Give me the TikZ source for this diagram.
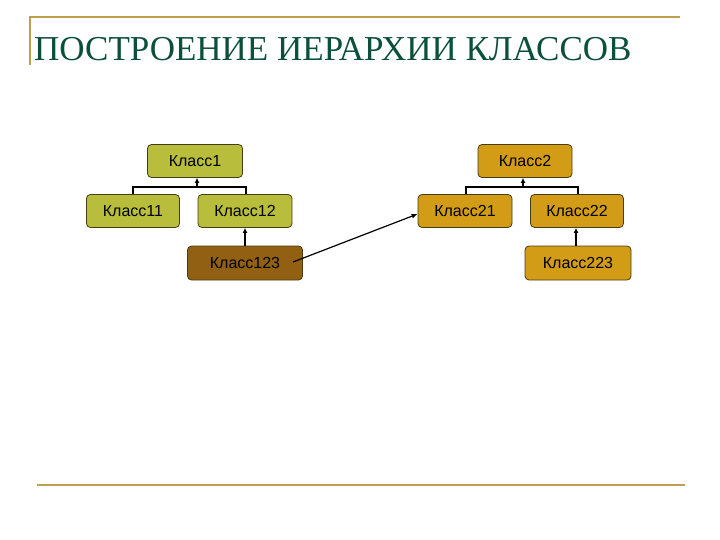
\documentclass[tikz,border=0pt]{standalone}
\usepackage{fontspec}
\setmainfont{Liberation Serif}
\newfontfamily\boxfont{Liberation Sans}
\usetikzlibrary{arrows.meta}
\definecolor{rulegold}{RGB}{190,160,80}
\definecolor{titlegreen}{RGB}{10,80,60}
\definecolor{olivefill}{RGB}{184,190,60}
\definecolor{goldfill}{RGB}{210,156,22}
\definecolor{brownfill}{RGB}{146,96,18}
\definecolor{boxedge}{RGB}{70,60,20}
\tikzset{
  cls/.style={draw=boxedge, line width=0.8pt, rounded corners=4pt, minimum height=33pt,
    inner sep=0pt, font=\boxfont\fontsize{16}{18}\selectfont, text=black},
  olive/.style={cls, fill=olivefill},
  gold/.style={cls, fill=goldfill},
  brownb/.style={cls, fill=brownfill},
  tree/.style={line width=2.2pt, black},
  treearrow/.style={line width=2.2pt, black, -{Latex[length=5pt,width=5pt]}},
  rulel/.style={rulegold, line width=2pt}
}
\begin{document}
\begin{tikzpicture}[x=1pt,y=-1pt]
\useasboundingbox (0,0) rectangle (720,540);
% rules
\coordinate (tl) at (30,65);
\coordinate (tc) at (30,17);
\coordinate (tr) at (680,17);
\draw[rulel] (tl) -- (tc) -- (tr);
\coordinate (bl) at (37,485);
\coordinate (br) at (685,485);
\draw[rulel] (bl) -- (br);
% title
\node[anchor=base west, inner sep=0pt, text=titlegreen, font=\fontsize{35}{38}\selectfont] (title) at (34,61) {ПОСТРОЕНИЕ ИЕРАРХИИ КЛАССОВ};
% left tree
\node[olive, minimum width=95pt] (k1) at (195,161) {Класс1};
\node[olive, minimum width=93pt] (k11) at (133,211) {Класс11};
\node[olive, minimum width=94pt] (k12) at (245,211) {Класс12};
\node[brownb, minimum width=115pt, minimum height=34pt] (k123) at (245,263) {Класс123};
% right tree
\node[gold, minimum width=94pt] (k2) at (525,161) {Класс2};
\node[gold, minimum width=94pt] (k21) at (465,211) {Класс21};
\node[gold, minimum width=93pt] (k22) at (577,211) {Класс22};
\node[gold, minimum width=106pt, minimum height=34pt] (k223) at (578,263) {Класс223};
% tree connectors left
\coordinate (b1) at (197,187);
\draw[tree] (k11.north -| 133,0) |- (b1) -| (k12.north -| 246,0);
\draw[treearrow] (b1) -- (k1.south -| 197,0);
\draw[treearrow] (k123.north) -- (k12.south);
% tree connectors right
\coordinate (b2) at (523,187);
\draw[tree] (k21.north -| 466,0) |- (b2) -| (k22.north -| 578,0);
\draw[treearrow] (b2) -- (k2.south -| 523,0);
\draw[treearrow] (k223.north -| 576,0) -- (k22.south -| 576,0);
% cross arrow
\coordinate (a0) at (293,262);
\draw[line width=1.2pt, -{Latex[length=6pt,width=5pt]}] (a0) -- (k21.west |- 0,214);
\end{tikzpicture}
\end{document}
